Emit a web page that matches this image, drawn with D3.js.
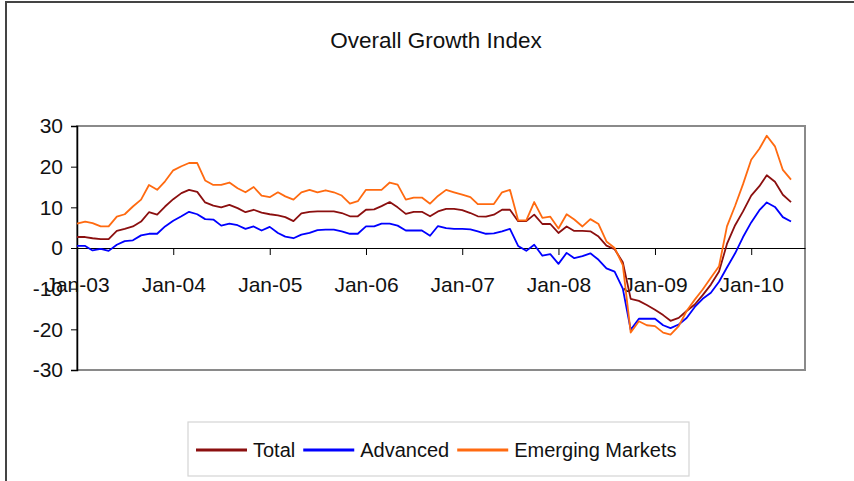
<!DOCTYPE html>
<html>
<head>
<meta charset="utf-8">
<script src="https://cdn.jsdelivr.net/npm/d3@7"></script>
<style>
body { margin: 0; background: #fff; }
text { font-family: "Liberation Sans", Arial, sans-serif; fill: #111; }
</style>
</head>
<body>
<svg id="chart"></svg>
<script>
// monthly points, Jan-03 .. Jun-10
var months = d3.timeMonth.range(new Date(2003, 0, 1), new Date(2010, 6, 1));

var total = [2.7, 2.7, 2.4, 2.2, 2.2, 4.2, 4.7, 5.3, 6.5, 8.8, 8.2, 10.2,
  12.0, 13.5, 14.3, 13.8, 11.2, 10.4, 10.0, 10.6, 9.8, 8.8, 9.4, 8.7,
  8.3, 8.0, 7.6, 6.6, 8.5, 8.9, 9.0, 9.0, 9.0, 8.6, 7.8, 7.8,
  9.4, 9.5, 10.3, 11.3, 10.0, 8.4, 8.9, 8.9, 7.8, 9.0, 9.6, 9.6,
  9.3, 8.6, 7.8, 7.7, 8.2, 9.4, 9.4, 6.6, 6.6, 8.2, 5.9, 5.9,
  3.7, 5.3, 4.2, 4.2, 4.1, 2.8, 0.6, -0.3, -3.5, -12.5, -13.0, -14.0,
  -15.2, -16.5, -17.9, -17.2, -15.5, -13.9, -11.6, -9.0, -5.8, 1.0, 5.6, 9.0,
  12.9, 15.2, 17.9, 16.3, 13.1, 11.3];

var advanced = [0.5, 0.5, -0.6, -0.2, -0.7, 0.8, 1.7, 1.9, 3.1, 3.5, 3.5, 5.3,
  6.7, 7.8, 8.9, 8.3, 7.1, 7.0, 5.5, 6.0, 5.6, 4.7, 5.3, 4.3,
  5.2, 3.7, 2.8, 2.4, 3.3, 3.7, 4.4, 4.5, 4.5, 4.1, 3.5, 3.5,
  5.3, 5.3, 6.0, 6.0, 5.5, 4.3, 4.3, 4.3, 3.0, 5.4, 4.9, 4.7,
  4.7, 4.6, 4.1, 3.5, 3.6, 4.1, 4.7, 0.5, -0.7, 0.8, -1.9, -1.5,
  -3.9, -1.2, -2.5, -2.0, -1.3, -2.9, -5.0, -5.8, -10.0, -20.1, -17.4, -17.4,
  -17.4, -19.0, -19.7, -18.8, -17.2, -14.5, -12.5, -11.0, -8.3, -4.8, -1.3, 2.7,
  6.3, 9.3, 11.2, 10.1, 7.6, 6.5];

var emerging = [6.0, 6.5, 6.1, 5.3, 5.3, 7.7, 8.3, 10.2, 11.9, 15.5, 14.3, 16.4,
  19.1, 20.1, 20.9, 20.9, 16.6, 15.5, 15.5, 16.1, 14.7, 13.7, 15.0, 12.9,
  12.5, 13.7, 12.7, 11.9, 13.7, 14.3, 13.7, 14.2, 13.7, 12.9, 10.9, 11.5,
  14.3, 14.3, 14.3, 16.1, 15.6, 11.9, 12.4, 12.4, 10.9, 12.8, 14.3, 13.7,
  13.1, 12.5, 10.8, 10.8, 10.8, 13.7, 14.3, 6.8, 6.8, 11.3, 7.4, 7.7,
  4.8, 8.3, 7.0, 5.3, 7.1, 5.9, 1.6, 0.0, -4.2, -20.8, -18.0, -19.0,
  -19.2, -20.8, -21.3, -19.2, -15.5, -12.7, -10.2, -7.3, -4.5, 5.3, 10.4, 15.7,
  21.7, 24.4, 27.6, 25.0, 19.2, 16.8];

var yTicks = [30, 20, 10, 0, -10, -20, -30];
var seriesNames = ["Total", "Advanced", "Emerging Markets"];
var seriesColors = ["#8b0f0f", "#0000ff", "#ff6a10"];
var seriesValues = [total, advanced, emerging];

var W = 854, H = 481;
var plotL = 77, plotR = 805, plotT = 126, plotB = 370;

var svg = d3.select("#chart").attr("width", W).attr("height", H);

// outer frame
svg.append("rect")
  .attr("x", 6).attr("y", 2)
  .attr("width", 1000).attr("height", 1000)
  .attr("fill", "none").attr("stroke", "#444").attr("stroke-width", 2);

svg.append("text")
  .attr("x", 436).attr("y", 48)
  .attr("text-anchor", "middle")
  .style("font-size", "22.5px")
  .text("Overall Growth Index");

var x = d3.scaleTime()
  .domain([new Date(2003, 0, 1), new Date(2010, 6, 24)])
  .range([plotL, plotR]);

var y = d3.scaleLinear()
  .domain([-30, 30])
  .range([plotB, plotT]);

// plot border (grey top/right/bottom)
svg.append("rect")
  .attr("x", plotL).attr("y", plotT)
  .attr("width", plotR - plotL).attr("height", plotB - plotT)
  .attr("fill", "none").attr("stroke", "#8a8a8a").attr("stroke-width", 2);

// y axis
var yAxis = svg.append("g")
  .attr("transform", "translate(" + plotL + ",0)")
  .call(d3.axisLeft(y).tickValues(yTicks).tickSize(6).tickPadding(8)
    .tickFormat(function(d) { return String(d); }));
yAxis.select(".domain").attr("stroke", "#000").attr("stroke-width", 1.5);
yAxis.selectAll(".tick line").attr("stroke", "#000");
yAxis.selectAll("text")
  .style("font-size", "21px")
  .style("font-family", "'Liberation Sans', Arial, sans-serif")
  .attr("fill", "#111");

// x axis on the zero line
var xAxis = svg.append("g")
  .attr("transform", "translate(0," + y(0) + ")")
  .call(d3.axisBottom(x).ticks(d3.timeYear.every(1)).tickSize(7).tickPadding(22)
    .tickFormat(d3.timeFormat("%b-%y")).tickSizeOuter(0));
xAxis.select(".domain").attr("stroke", "#000").attr("stroke-width", 1.2);
xAxis.selectAll(".tick line").attr("stroke", "#000");
xAxis.selectAll("text")
  .style("font-size", "21px")
  .style("font-family", "'Liberation Sans', Arial, sans-serif")
  .attr("fill", "#111");

var line = d3.line()
  .x(function(d, i) { return x(months[i]); })
  .y(function(d) { return y(d); });

seriesValues.forEach(function(vals, k) {
  svg.append("path")
    .datum(vals)
    .attr("fill", "none")
    .attr("stroke", seriesColors[k])
    .attr("stroke-width", 1.8)
    .attr("stroke-linejoin", "round")
    .attr("d", line);
});

// legend
var legend = svg.append("g");
legend.append("rect")
  .attr("x", 188).attr("y", 422)
  .attr("width", 501).attr("height", 54)
  .attr("fill", "#fff").attr("stroke", "#d4d4d4").attr("stroke-width", 1.2);

var lx = 196;
seriesNames.forEach(function(name, k) {
  legend.append("line")
    .attr("x1", lx).attr("x2", lx + 51)
    .attr("y1", 450).attr("y2", 450)
    .attr("stroke", seriesColors[k]).attr("stroke-width", 3);
  var t = legend.append("text")
    .attr("x", lx + 57).attr("y", 457)
    .style("font-size", "20px")
    .text(name);
  lx = lx + 57 + t.node().getComputedTextLength() + 8;
});
</script>
</body>
</html>
